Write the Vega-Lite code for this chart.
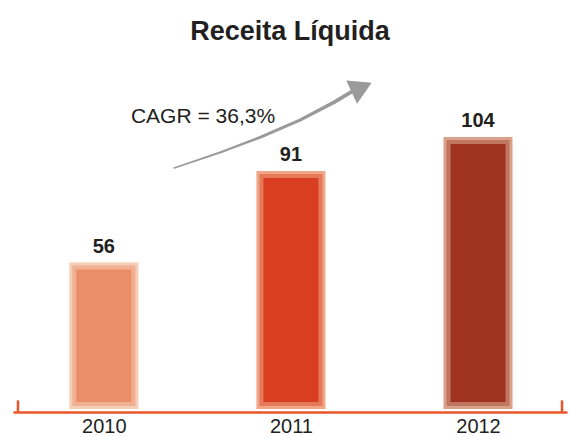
{
  "$schema": "https://vega.github.io/schema/vega-lite/v6.json",
  "width": 554,
  "height": 309,
  "autosize": {"type": "none"},
  "padding": {"left": 13, "top": 100, "right": 2, "bottom": 28},
  "background": "white",
  "title": {
    "text": "Receita Líquida",
    "font": "Liberation Sans",
    "fontSize": 27,
    "fontWeight": "bold",
    "color": "#231f20",
    "anchor": "middle",
    "baseline": "alphabetic",
    "offset": 14
  },
  "config": {"view": {"stroke": null}},
  "resolve": {"scale": {"color": "independent"}},
  "datasets": {
    "bars": [
      {"ano": 2010, "valor": 56, "cor": "2010"},
      {"ano": 2011, "valor": 91, "cor": "2011"},
      {"ano": 2012, "valor": 104, "cor": "2012"}
    ],
    "arrow": [
      {"x": 2010.376, "y": 92.2, "w": 2},
      {"x": 2010.628, "y": 98.3, "w": 4},
      {"x": 2010.838, "y": 104.0, "w": 5.5},
      {"x": 2011.048, "y": 110.5, "w": 7},
      {"x": 2011.232, "y": 117.4, "w": 8.5},
      {"x": 2011.321, "y": 121.2, "w": 9.5}
    ],
    "head": [{"x": 2011.378, "y": 123.0}],
    "ends": [{"x": 2009.541, "y": 3.3, "y0": 0}, {"x": 2012.449, "y": 3.3, "y0": 0}],
    "cagr": [{"x": 2010.53, "y": 109.5, "t": "CAGR = 36,3%"}]
  },
  "layer": [
    {
      "data": {"name": "bars"},
      "mark": {"type": "bar", "size": 69},
      "encoding": {
        "x": {
          "field": "ano", "type": "quantitative",
          "scale": {"domain": [2009.541, 2012.449], "nice": false, "zero": false},
          "axis": {
            "values": [2010, 2011, 2012], "format": "d", "title": null,
            "grid": false, "ticks": false, "offset": 3,
            "domainColor": "#E8562A", "domainWidth": 2.5,
            "labelFont": "Liberation Sans", "labelFontSize": 20, "labelColor": "#231f20",
            "labelPadding": 4
          }
        },
        "y": {
          "field": "valor", "type": "quantitative", "stack": null,
          "scale": {"domain": [0, 118.2], "nice": false},
          "axis": null
        },
        "y2": {"datum": 0},
        "color": {
          "field": "cor", "type": "nominal", "legend": null,
          "scale": {"domain": ["2010", "2011", "2012"], "range": ["#F6CDB6", "#F0A686", "#D9A08A"]}
        }
      }
    },
    {
      "data": {"name": "bars"},
      "mark": {"type": "bar", "size": 63, "yOffset": 3, "y2Offset": -3},
      "encoding": {
        "x": {"field": "ano", "type": "quantitative"},
        "y": {"field": "valor", "type": "quantitative", "stack": null},
        "y2": {"datum": 0},
        "color": {
          "field": "cor", "type": "nominal", "legend": null,
          "scale": {"domain": ["2010", "2011", "2012"], "range": ["#F0B092", "#E57A5B", "#C07660"]}
        }
      }
    },
    {
      "data": {"name": "bars"},
      "mark": {"type": "bar", "size": 55, "yOffset": 7, "y2Offset": -7},
      "encoding": {
        "x": {"field": "ano", "type": "quantitative"},
        "y": {"field": "valor", "type": "quantitative", "stack": null},
        "y2": {"datum": 0},
        "color": {
          "field": "cor", "type": "nominal", "legend": null,
          "scale": {"domain": ["2010", "2011", "2012"], "range": ["#EA8D69", "#D93E22", "#A0331F"]}
        }
      }
    },
    {
      "data": {"name": "bars"},
      "mark": {"type": "text", "baseline": "alphabetic", "dy": -10, "font": "Liberation Sans", "fontSize": 20, "fontWeight": "bold", "color": "#231f20"},
      "encoding": {
        "x": {"field": "ano", "type": "quantitative"},
        "y": {"field": "valor", "type": "quantitative"},
        "text": {"field": "valor", "type": "quantitative"}
      }
    },
    {
      "data": {"name": "arrow"},
      "mark": {"type": "trail", "color": "#9a9a9a", "interpolate": "monotone"},
      "encoding": {
        "x": {"field": "x", "type": "quantitative"},
        "y": {"field": "y", "type": "quantitative"},
        "size": {"field": "w", "type": "quantitative", "scale": {"type": "identity"}, "legend": null}
      }
    },
    {
      "data": {"name": "head"},
      "mark": {"type": "point", "shape": "triangle-up", "filled": true, "color": "#9a9a9a", "opacity": 1, "size": 650, "angle": 65},
      "encoding": {
        "x": {"field": "x", "type": "quantitative"},
        "y": {"field": "y", "type": "quantitative"}
      }
    },
    {
      "data": {"name": "ends"},
      "mark": {"type": "rule", "color": "#E8562A", "strokeWidth": 2.5, "y2Offset": 3},
      "encoding": {
        "x": {"field": "x", "type": "quantitative"},
        "y": {"field": "y", "type": "quantitative"},
        "y2": {"field": "y0"}
      }
    },
    {
      "data": {"name": "cagr"},
      "mark": {"type": "text", "baseline": "alphabetic", "align": "center", "font": "Liberation Sans", "fontSize": 21, "color": "#231f20"},
      "encoding": {
        "x": {"field": "x", "type": "quantitative"},
        "y": {"field": "y", "type": "quantitative"},
        "text": {"field": "t", "type": "nominal"}
      }
    }
  ]
}
